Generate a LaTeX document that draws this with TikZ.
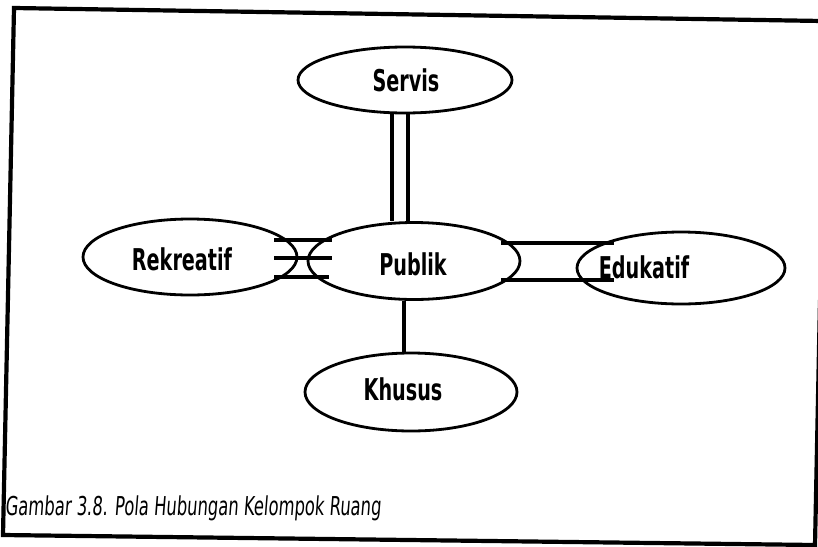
\documentclass[tikz,border=0pt]{standalone}
\usepackage{fontspec}
\usetikzlibrary{shapes.geometric,calc}
\newfontfamily\lblfont[FakeStretch=0.64]{DejaVu Sans}
\newfontfamily\capfont[FakeStretch=0.63,FakeSlant=0.08]{DejaVu Sans}
\tikzset{
  room/.style={ellipse,draw,line width=2.8pt,inner sep=0pt},
  roomlabel/.style={anchor=base,inner sep=0pt,font=\lblfont\bfseries\fontsize{30}{30}\selectfont},
  link/.style={line width=4.2pt},
  frameline/.style={line width=4.2pt,line join=miter},
}
\begin{document}
\begin{tikzpicture}[x=1pt,y=-1pt]
\useasboundingbox (0,0) rectangle (818,546);
\fill[white] (0,0) rectangle (818,546);
\begin{scope}
\clip (0,0) rectangle (818,546);
% slightly skewed outer frame; its right side leaves the sheet near the top
\draw[frameline] (822,21) -- (14,8) -- (3,535) -- (815,545) -- (820,300);
\end{scope}

% room groups
\node[room,minimum width=214pt,minimum height=66pt] (servis) at (405,80) {};
\node[room,minimum width=212pt,minimum height=77pt] (publik) at (414,261) {};
\node[room,minimum width=214pt,minimum height=76pt] (rekreatif) at (190,257) {};
\node[room,minimum width=208pt,minimum height=72pt] (edukatif) at (681,268) {};
\node[room,minimum width=212pt,minimum height=78pt] (khusus) at (411,392) {};

\node[roomlabel] (servis-t) at (406,91) {Servis};
\node[roomlabel] (publik-t) at (413,275) {Publik};
\node[roomlabel] (rekreatif-t) at (182,270) {Rekreatif};
\node[roomlabel] (edukatif-t) at (644,278) {Edukatif};
\node[roomlabel] (khusus-t) at (403,400) {Khusus};

% Servis -- Publik : double line
\draw[link] ([xshift=-13pt]servis.south) -- ([xshift=-13pt]servis.south |- publik.north);
\draw[link] ([xshift=3pt]servis.south) -- ([xshift=3pt]servis.south |- publik.north);

% Rekreatif -- Publik : triple line
\draw[link] ($(rekreatif.east)+(-24,-17)$) -- ($(publik.west)+(25,-21)$);
\draw[link] ($(rekreatif.east)+(-24,1)$) -- ($(publik.west)+(25,-3)$);
\draw[link] ($(rekreatif.east)+(-24,20)$) -- ($(publik.west)+(22,16)$);

% Publik -- Edukatif : double line
\draw[link] ($(publik.east)+(-20,-18)$) -- ($(edukatif.west)+(38,-25)$);
\draw[link] ($(publik.east)+(-20,19)$) -- ($(edukatif.west)+(38,12)$);

% Publik -- Khusus : single line
\draw[link] ($(publik.south)+(-10,0)$) -- ($(khusus.north)+(-7,0)$);

\node[anchor=base west,inner sep=0pt,font=\capfont\fontsize{26}{26}\selectfont] (caption) at (5,515) {Gambar 3.8. Pola Hubungan Kelompok Ruang};
\end{tikzpicture}
\end{document}
